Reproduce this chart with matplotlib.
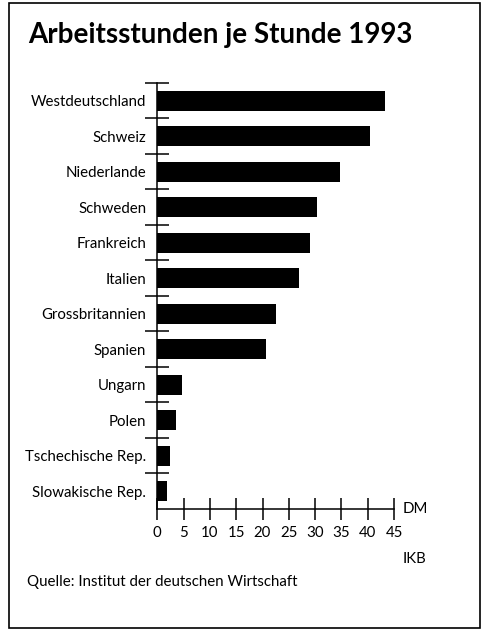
import numpy as np
import matplotlib
matplotlib.use('Agg')
import matplotlib.pyplot as plt
from matplotlib.patches import Rectangle

# data (DM per hour, 1993)
countries = ['Westdeutschland', 'Schweiz', 'Niederlande', 'Schweden', 'Frankreich', 'Italien',
             'Grossbritannien', 'Spanien', 'Ungarn', 'Polen', 'Tschechische Rep.', 'Slowakische Rep.']
values = [43.3, 40.4, 34.8, 30.4, 29.1, 26.9, 22.5, 20.7, 4.6, 3.5, 2.5, 1.9]
xticks = [0, 5, 10, 15, 20, 25, 30, 35, 40, 45]

plt.rcParams['font.family'] = ['Lato', 'DejaVu Sans']
fs = 10.8

fig = plt.figure(figsize=(4.86, 6.3), dpi=100)
ax = fig.add_axes([0.3237, 0.1921, 0.487, 0.6762])

y = np.arange(len(countries))
ax.barh(y, values, height=0.57, color='black')

ax.set_xlim(0, 45)
ax.set_ylim(len(countries) - 0.5, -0.5)

for s in ['top', 'right']:
    ax.spines[s].set_visible(False)
ax.spines['left'].set_linewidth(1.1)
ax.spines['bottom'].set_linewidth(1.1)
ax.spines['bottom'].set_bounds(0, 45)

# x ticks crossing the axis
ax.set_xticks(xticks)
ax.set_xticklabels([str(t) for t in xticks], fontsize=fs)
ax.tick_params(axis='x', direction='inout', length=16, width=1.1, pad=4)

# category labels, separators as crossing minor ticks
ax.set_yticks(y)
ax.set_yticklabels(countries, fontsize=fs)
ax.tick_params(axis='y', which='major', length=0, pad=8)
ax.set_yticks(np.arange(-0.5, len(countries) - 1, 1.0), minor=True)
ax.tick_params(axis='y', which='minor', direction='inout', length=17, width=1.1)

fig.text(403 / 486, 1 - 509 / 630, 'DM', fontsize=fs, ha='left', va='center')
fig.text(403 / 486, 1 - 559 / 630, 'IKB', fontsize=fs, ha='left', va='center')
fig.text(27 / 486, 1 - 582 / 630, 'Quelle: Institut der deutschen Wirtschaft', fontsize=fs,
         ha='left', va='center')
fig.text(28 / 486, 1 - 35 / 630, 'Arbeitsstunden je Stunde 1993', fontsize=20, fontweight='bold',
         ha='left', va='center')

# frame around the whole graphic
fig.patches.append(Rectangle((9 / 486, 2 / 630), 471 / 486, 625 / 630, transform=fig.transFigure,
                             fill=False, edgecolor='black', linewidth=1.2))

plt.savefig('out.png', dpi=100)
